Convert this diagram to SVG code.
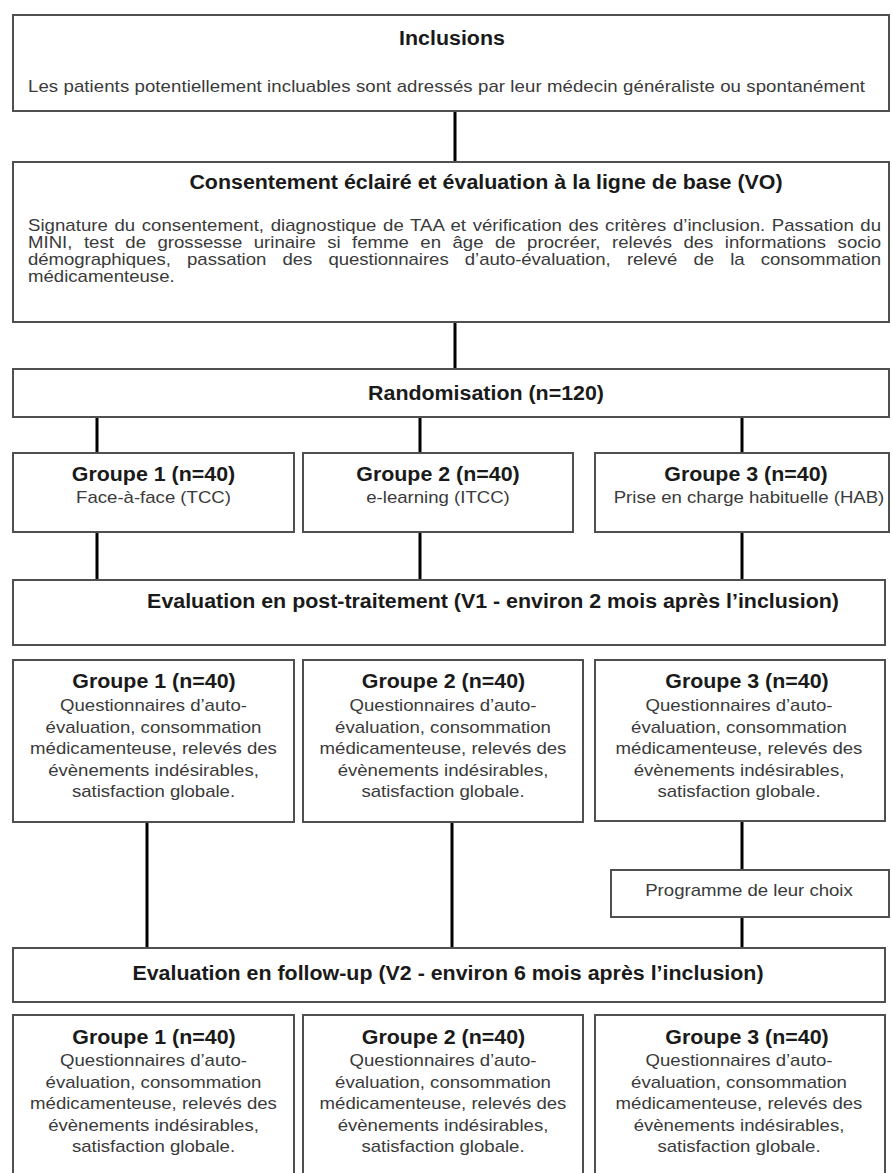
<svg xmlns="http://www.w3.org/2000/svg" width="892" height="1173" viewBox="0 0 892 1173">
<style>
.box{fill:#fff;stroke:#505050;stroke-width:2}
.c{stroke:#000;stroke-width:3;fill:none}
.h{font-family:"Liberation Sans",Arial,sans-serif;font-size:20px;font-weight:bold;fill:#1a1a1a;text-anchor:middle}
.b{font-family:"Liberation Sans",Arial,sans-serif;font-size:16px;fill:#3a3a3a;text-anchor:middle}
.bl{font-family:"Liberation Sans",Arial,sans-serif;font-size:16px;fill:#3a3a3a;text-anchor:start}
</style>
<rect width="892" height="1173" fill="#fff"/>
<g id="connectors">
<path class="c" d="M455 111V162M455 322V369M97 417V453M420 417V453M742 417V453M97 532V580M420 532V580M742 532V580M147 822V948M452 822V948M742 821V870M742 917V948"/>
</g>
<g id="inclusions">
<rect class="box" x="13" y="15" width="876" height="96"/>
<text class="h" transform="translate(452 45) scale(1.07 1)">Inclusions</text>
<text class="bl" transform="translate(28 92) scale(1.1625 1)" textLength="720" lengthAdjust="spacing">Les patients potentiellement incluables sont adressés par leur médecin généraliste ou spontanément</text>
</g>
<g id="consentement">
<rect class="box" x="13" y="162" width="876" height="160"/>
<text class="h" transform="translate(486 189) scale(1.07 1)">Consentement éclairé et évaluation à la ligne de base (VO)</text>
<text class="bl" transform="translate(28 231) scale(1.1625 1)" word-spacing="1.2" textLength="733.8" lengthAdjust="spacing">Signature du consentement, diagnostique de TAA et vérification des critères d’inclusion. Passation du</text>
<text class="bl" transform="translate(28 248) scale(1.1625 1)" word-spacing="5.4" textLength="733.8" lengthAdjust="spacing">MINI, test de grossesse urinaire si femme en âge de procréer, relevés des informations socio</text>
<text class="bl" transform="translate(28 265) scale(1.1625 1)" word-spacing="9.5" textLength="733.8" lengthAdjust="spacing">démographiques, passation des questionnaires d’auto-évaluation, relevé de la consommation</text>
<text class="bl" transform="translate(28 282) scale(1.1625 1)">médicamenteuse.</text>
</g>
<g id="randomisation">
<rect class="box" x="13" y="369" width="876" height="48"/>
<text class="h" transform="translate(486 400) scale(1.07 1)">Randomisation (n=120)</text>
</g>
<g id="groupe1">
<rect class="box" x="13" y="453" width="281" height="79"/>
<text class="h" transform="translate(153.5 481) scale(1.07 1)">Groupe 1 (n=40)</text>
<text class="b" transform="translate(153.5 503) scale(1.1625 1)">Face-à-face (TCC)</text>
</g>
<g id="groupe2">
<rect class="box" x="303" y="453" width="270" height="79"/>
<text class="h" transform="translate(438 481) scale(1.07 1)">Groupe 2 (n=40)</text>
<text class="b" transform="translate(438 503) scale(1.1625 1)">e-learning (ITCC)</text>
</g>
<g id="groupe3">
<rect class="box" x="595" y="453" width="294" height="79"/>
<text class="h" transform="translate(746 481) scale(1.07 1)">Groupe 3 (n=40)</text>
<text class="b" transform="translate(749 503) scale(1.1625 1)">Prise en charge habituelle (HAB)</text>
</g>
<g id="evaluation-v1">
<rect class="box" x="13" y="580" width="872" height="65"/>
<text class="h" transform="translate(493 608) scale(1.07 1)">Evaluation en post-traitement (V1 - environ 2 mois après l’inclusion)</text>
</g>
<g id="v1-groupe1">
<rect class="box" x="13" y="660" width="281" height="162"/>
<text class="h" transform="translate(154 688) scale(1.07 1)">Groupe 1 (n=40)</text>
<text class="b" transform="translate(153.5 711) scale(1.1625 1)">Questionnaires d’auto-</text>
<text class="b" transform="translate(153.5 733) scale(1.1625 1)">évaluation, consommation</text>
<text class="b" transform="translate(153.5 754) scale(1.1625 1)">médicamenteuse, relevés des</text>
<text class="b" transform="translate(153.5 776) scale(1.1625 1)">évènements indésirables,</text>
<text class="b" transform="translate(153.5 797) scale(1.1625 1)">satisfaction globale.</text>
</g>
<g id="v1-groupe2">
<rect class="box" x="303" y="660" width="280" height="162"/>
<text class="h" transform="translate(443.5 688) scale(1.07 1)">Groupe 2 (n=40)</text>
<text class="b" transform="translate(443 711) scale(1.1625 1)">Questionnaires d’auto-</text>
<text class="b" transform="translate(443 733) scale(1.1625 1)">évaluation, consommation</text>
<text class="b" transform="translate(443 754) scale(1.1625 1)">médicamenteuse, relevés des</text>
<text class="b" transform="translate(443 776) scale(1.1625 1)">évènements indésirables,</text>
<text class="b" transform="translate(443 797) scale(1.1625 1)">satisfaction globale.</text>
</g>
<g id="v1-groupe3">
<rect class="box" x="595" y="660" width="290" height="161"/>
<text class="h" transform="translate(747 688) scale(1.07 1)">Groupe 3 (n=40)</text>
<text class="b" transform="translate(739 711) scale(1.1625 1)">Questionnaires d’auto-</text>
<text class="b" transform="translate(739 733) scale(1.1625 1)">évaluation, consommation</text>
<text class="b" transform="translate(739 754) scale(1.1625 1)">médicamenteuse, relevés des</text>
<text class="b" transform="translate(739 776) scale(1.1625 1)">évènements indésirables,</text>
<text class="b" transform="translate(739 797) scale(1.1625 1)">satisfaction globale.</text>
</g>
<g id="programme">
<rect class="box" x="611" y="870" width="278" height="47"/>
<text class="b" transform="translate(749 896) scale(1.1625 1)">Programme de leur choix</text>
</g>
<g id="evaluation-v2">
<rect class="box" x="13" y="948" width="872" height="54"/>
<text class="h" transform="translate(448 980) scale(1.07 1)">Evaluation en follow-up (V2 - environ 6 mois après l’inclusion)</text>
</g>
<g id="v2-groupe1">
<rect class="box" x="13" y="1015" width="281" height="175"/>
<text class="h" transform="translate(154 1044) scale(1.07 1)">Groupe 1 (n=40)</text>
<text class="b" transform="translate(153.5 1066) scale(1.1625 1)">Questionnaires d’auto-</text>
<text class="b" transform="translate(153.5 1088) scale(1.1625 1)">évaluation, consommation</text>
<text class="b" transform="translate(153.5 1109) scale(1.1625 1)">médicamenteuse, relevés des</text>
<text class="b" transform="translate(153.5 1131) scale(1.1625 1)">évènements indésirables,</text>
<text class="b" transform="translate(153.5 1152) scale(1.1625 1)">satisfaction globale.</text>
</g>
<g id="v2-groupe2">
<rect class="box" x="303" y="1015" width="280" height="175"/>
<text class="h" transform="translate(443.5 1044) scale(1.07 1)">Groupe 2 (n=40)</text>
<text class="b" transform="translate(443 1066) scale(1.1625 1)">Questionnaires d’auto-</text>
<text class="b" transform="translate(443 1088) scale(1.1625 1)">évaluation, consommation</text>
<text class="b" transform="translate(443 1109) scale(1.1625 1)">médicamenteuse, relevés des</text>
<text class="b" transform="translate(443 1131) scale(1.1625 1)">évènements indésirables,</text>
<text class="b" transform="translate(443 1152) scale(1.1625 1)">satisfaction globale.</text>
</g>
<g id="v2-groupe3">
<rect class="box" x="595" y="1015" width="290" height="175"/>
<text class="h" transform="translate(747 1044) scale(1.07 1)">Groupe 3 (n=40)</text>
<text class="b" transform="translate(739 1066) scale(1.1625 1)">Questionnaires d’auto-</text>
<text class="b" transform="translate(739 1088) scale(1.1625 1)">évaluation, consommation</text>
<text class="b" transform="translate(739 1109) scale(1.1625 1)">médicamenteuse, relevés des</text>
<text class="b" transform="translate(739 1131) scale(1.1625 1)">évènements indésirables,</text>
<text class="b" transform="translate(739 1152) scale(1.1625 1)">satisfaction globale.</text>
</g>
</svg>
